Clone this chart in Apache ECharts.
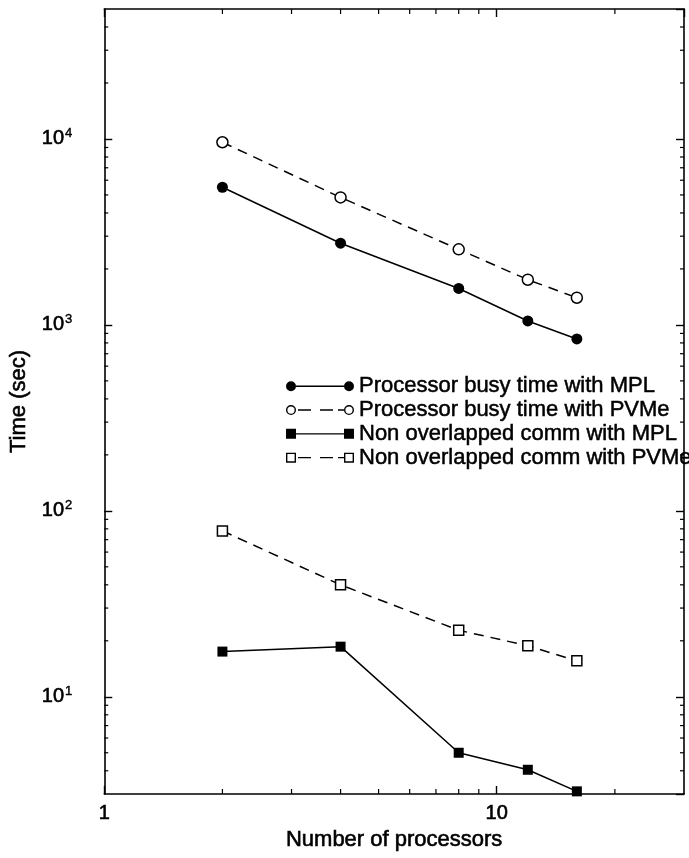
<!DOCTYPE html>
<html>
<head>
<meta charset="utf-8">
<script src="https://cdn.jsdelivr.net/npm/echarts@6/dist/echarts.min.js"></script>
<style>
html,body{margin:0;padding:0;background:#fff;}
#chart{width:689px;height:858px;}
</style>
</head>
<body>
<div id="chart"></div>
<script>
// ---- data ----
const processors = [2, 4, 8, 12, 16];
const busyMPL  = [5500, 2750, 1570, 1050, 840];
const busyPVMe = [9600, 4850, 2550, 1750, 1400];
const commMPL  = [17.5, 18.6, 5.0, 4.05, 3.1];
const commPVMe = [78, 40, 22.8, 18.8, 15.6];
const seriesNames = [
  'Processor busy time with MPL',
  'Processor busy time with PVMe',
  'Non overlapped comm with MPL',
  'Non overlapped comm with PVMe'
];
const X_MIN = 1, X_MAX = 30;
const Y_MIN = 3, Y_MAX = 50000;
const xMinorTicks = [2, 3, 4, 5, 6, 7, 8, 9, 20];
const yMinorTicks = [4, 5, 6, 7, 8, 9, 20, 30, 40, 50, 60, 70, 80, 90,
  200, 300, 400, 500, 600, 700, 800, 900,
  2000, 3000, 4000, 5000, 6000, 7000, 8000, 9000, 20000, 30000, 40000];

const FONT = "'Liberation Sans', Arial, Helvetica, sans-serif";
const HEAVY = {textBorderColor: '#000', textBorderWidth: 0.6};
const chart = echarts.init(document.getElementById('chart'), null, {renderer: 'canvas'});

function pairs(ys) { return processors.map((x, i) => [x, ys[i]]); }

// legend icon paths (line with marker at each end)
const dotL = 'M0 5 A5 5 0 1 1 10 5 A5 5 0 1 1 0 5 Z';
const dotR = 'M58 5 A5 5 0 1 1 68 5 A5 5 0 1 1 58 5 Z';
const ringL = 'M0 5 A5 5 0 1 1 10 5 A5 5 0 1 1 0 5 Z M1.4 5 A3.6 3.6 0 1 0 8.6 5 A3.6 3.6 0 1 0 1.4 5 Z';
const ringR = 'M58 5 A5 5 0 1 1 68 5 A5 5 0 1 1 58 5 Z M59.4 5 A3.6 3.6 0 1 0 66.6 5 A3.6 3.6 0 1 0 59.4 5 Z';
const sqL = 'M0 0 L10 0 L10 10 L0 10 Z';
const sqR = 'M58 0 L68 0 L68 10 L58 10 Z';
const hsqL = 'M0 0 L10 0 L10 10 L0 10 Z M1.4 1.4 L1.4 8.6 L8.6 8.6 L8.6 1.4 Z';
const hsqR = 'M58 0 L68 0 L68 10 L58 10 Z M59.4 1.4 L59.4 8.6 L66.6 8.6 L66.6 1.4 Z';
const solidSeg = 'M10 4.3 L58 4.3 L58 5.7 L10 5.7 Z';
const dashSeg = 'M12 4.3 L25 4.3 L25 5.7 L12 5.7 Z M34 4.3 L47 4.3 L47 5.7 L34 5.7 Z M52 4.3 L58 4.3 L58 5.7 L52 5.7 Z';
const icons = [
  'path://' + dotL + ' ' + solidSeg + ' ' + dotR,
  'path://' + ringL + ' ' + dashSeg + ' ' + ringR,
  'path://' + sqL + ' ' + solidSeg + ' ' + sqR,
  'path://' + hsqL + ' ' + dashSeg + ' ' + hsqR
];

function supLabel(v) {
  const e = Math.log10(v);
  const r = Math.round(e);
  if (Math.abs(e - r) > 1e-6) return '';
  return '{b|10}{s|' + r + '}';
}
function xLabel(v) {
  const e = Math.log10(v);
  const r = Math.round(e);
  if (Math.abs(e - r) > 1e-6) return '';
  return String(Math.round(v));
}

function minorX(params, api) {
  const v = api.value(0);
  const p = api.coord([v, Y_MIN]);
  const q = api.coord([v, Y_MAX]);
  const st = {stroke: '#000', lineWidth: 1.2};
  return {type: 'group', children: [
    {type: 'line', shape: {x1: p[0], y1: p[1], x2: p[0], y2: p[1] - 5}, style: st},
    {type: 'line', shape: {x1: q[0], y1: q[1], x2: q[0], y2: q[1] + 5}, style: st}
  ]};
}
function minorY(params, api) {
  const v = api.value(1);
  const p = api.coord([X_MIN, v]);
  const q = api.coord([X_MAX, v]);
  const st = {stroke: '#000', lineWidth: 1.2};
  return {type: 'group', children: [
    {type: 'line', shape: {x1: p[0], y1: p[1], x2: p[0] + 4, y2: p[1]}, style: st},
    {type: 'line', shape: {x1: q[0], y1: q[1], x2: q[0] - 4, y2: q[1]}, style: st}
  ]};
}

const axisLine = {show: true, onZero: false, lineStyle: {color: '#000', width: 1.6}};
const majorTick = {show: true, inside: true, length: 8, lineStyle: {color: '#000', width: 1.4}};

const option = {
  backgroundColor: '#fff',
  animation: false,
  textStyle: {fontFamily: FONT},
  grid: {left: 94, right: 5, top: 9, bottom: 64, containLabel: false},
  legend: {
    orient: 'vertical',
    left: 281,
    top: 370,
    itemWidth: 68,
    itemHeight: 10,
    itemGap: 1.3,
    selectedMode: false,
    textStyle: Object.assign({fontSize: 22, lineHeight: 22, color: '#000', fontFamily: FONT}, HEAVY, {textBorderWidth: 0.5}),
    data: seriesNames.map((n, i) => ({
      name: n,
      icon: icons[i],
      itemStyle: {color: '#000', borderWidth: 0, borderColor: '#000'}
    }))
  },
  xAxis: [
    {
      type: 'log', logBase: 10, min: X_MIN, max: X_MAX, position: 'bottom',
      name: 'Number of processors', nameLocation: 'middle', nameGap: 33,
      nameTextStyle: Object.assign({fontSize: 22, color: '#000', fontFamily: FONT}, HEAVY),
      axisLine: axisLine, axisTick: majorTick,
      axisLabel: Object.assign({formatter: xLabel, fontSize: 20, color: '#000', margin: 9, fontFamily: FONT,
        showMinLabel: true, showMaxLabel: false}, HEAVY),
      splitLine: {show: false}
    },
    {
      type: 'log', logBase: 10, min: X_MIN, max: X_MAX, position: 'top',
      axisLine: axisLine, axisTick: majorTick,
      axisLabel: {show: false}, splitLine: {show: false}
    }
  ],
  yAxis: [
    {
      type: 'log', logBase: 10, min: Y_MIN, max: Y_MAX, position: 'left',
      name: 'Time (sec)', nameLocation: 'middle', nameGap: 57,
      nameTextStyle: Object.assign({fontSize: 22, color: '#000', fontFamily: FONT}, HEAVY),
      axisLine: axisLine, axisTick: majorTick,
      axisLabel: {
        formatter: supLabel, margin: 32, color: '#000', showMinLabel: false, showMaxLabel: false,
        rich: {
          b: Object.assign({fontSize: 20, lineHeight: 20, color: '#000', fontFamily: FONT}, HEAVY),
          s: Object.assign({fontSize: 13, lineHeight: 13, color: '#000', fontFamily: FONT, padding: [0, 0, 11, 1]}, HEAVY, {textBorderWidth: 0.4})
        }
      },
      splitLine: {show: false}
    },
    {
      type: 'log', logBase: 10, min: Y_MIN, max: Y_MAX, position: 'right',
      axisLine: axisLine, axisTick: majorTick,
      axisLabel: {show: false}, splitLine: {show: false}
    }
  ],
  series: [
    {
      name: seriesNames[0], type: 'line', data: pairs(busyMPL),
      symbol: 'circle', symbolSize: 11,
      lineStyle: {color: '#000', width: 1.5, type: 'solid'},
      itemStyle: {color: '#000'}, z: 3
    },
    {
      name: seriesNames[1], type: 'line', data: pairs(busyPVMe),
      symbol: 'circle', symbolSize: 11,
      lineStyle: {color: '#000', width: 1.5, type: [10, 7]},
      itemStyle: {color: '#fff', borderColor: '#000', borderWidth: 1.5}, z: 3
    },
    {
      name: seriesNames[2], type: 'line', data: pairs(commMPL),
      symbol: 'rect', symbolSize: 10,
      lineStyle: {color: '#000', width: 1.5, type: 'solid'},
      itemStyle: {color: '#000'}, z: 3
    },
    {
      name: seriesNames[3], type: 'line', data: pairs(commPVMe),
      symbol: 'rect', symbolSize: 10,
      lineStyle: {color: '#000', width: 1.5, type: [10, 7]},
      itemStyle: {color: '#fff', borderColor: '#000', borderWidth: 1.5}, z: 3
    },
    {
      name: 'xMinor', type: 'custom', renderItem: minorX, silent: true,
      data: xMinorTicks.map(v => [v, Y_MIN]), clip: false, z: 2
    },
    {
      name: 'yMinor', type: 'custom', renderItem: minorY, silent: true,
      data: yMinorTicks.map(v => [X_MIN, v]), clip: false, z: 2
    }
  ]
};
chart.setOption(option);
</script>
</body>
</html>
